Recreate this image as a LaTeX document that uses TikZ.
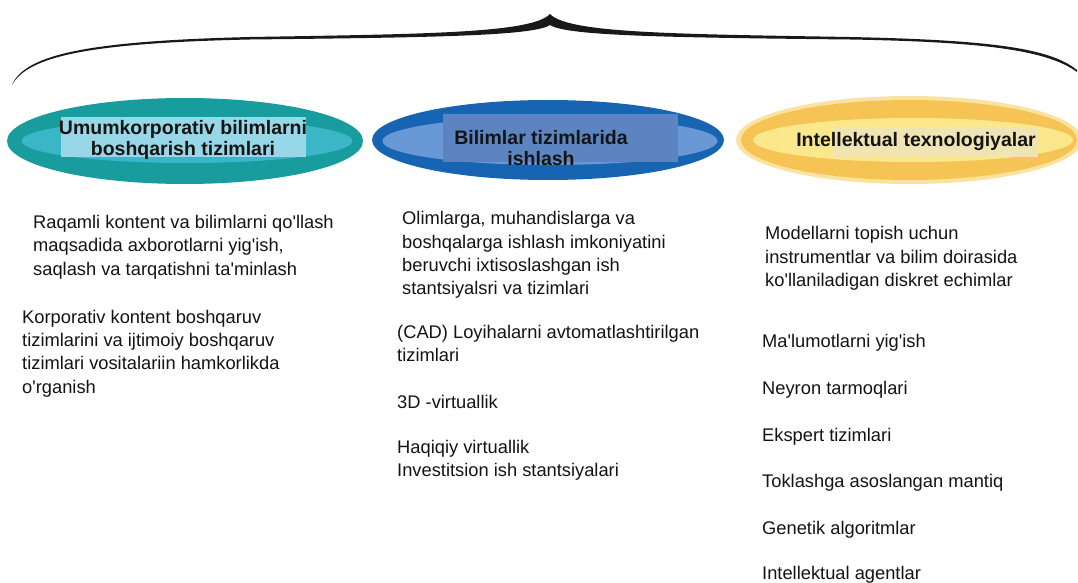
\documentclass[tikz,border=0pt]{standalone}
\usepackage{fontspec}
\setmainfont{Liberation Sans}
\usetikzlibrary{shapes.geometric}
\definecolor{tealO}{RGB}{24,156,158}
\definecolor{tealI}{RGB}{58,182,198}
\definecolor{tealR}{RGB}{150,216,232}
\definecolor{blueO}{RGB}{22,100,178}
\definecolor{blueI}{RGB}{104,152,214}
\definecolor{blueR}{RGB}{92,132,192}
\definecolor{yelG}{RGB}{252,226,160}
\definecolor{yelO}{RGB}{246,196,84}
\definecolor{yelI}{RGB}{252,232,140}
\definecolor{yelR}{RGB}{240,228,178}
\definecolor{txt}{RGB}{20,20,20}
\newcommand{\ap}{\textquotesingle}
\begin{document}
\begin{tikzpicture}[x=1pt,y=-1pt,
  ell/.style={ellipse,inner sep=0pt,draw=none},
  titlerect/.style={inner sep=0pt,draw=none},
  title/.style={font=\fontsize{19.5}{21}\selectfont\bfseries,align=center,inner sep=0pt,text=txt},
  body/.style={font=\fontsize{18.3}{23.3}\selectfont,align=left,anchor=west,inner sep=0pt,text=txt}]
\useasboundingbox (0,0) rectangle (1078,583);
\fill[white] (0,0) rectangle (1078,583);
% brace
\fill[black!90] (12,85) .. controls (25,54) and (90,41) .. (250,37)
  .. controls (430,34) and (532,33) .. (550,14)
  .. controls (568,33) and (670,34) .. (850,37)
  .. controls (990,40) and (1050,48) .. (1077,70)
  -- (1077,72)
  .. controls (1048,51) and (990,42) .. (850,39.5)
  .. controls (670,37.5) and (566,36) .. (550,25)
  .. controls (534,36) and (430,37.5) .. (250,39.5)
  .. controls (90,43) and (28,56) .. (12,85) -- cycle;
% left ellipse
\node[ell,fill=tealO,minimum width=356,minimum height=86] (e1) at (185,141) {};
\node[ell,fill=tealI,minimum width=331,minimum height=44] (i1) at (187,141) {};
\node[titlerect,fill=tealR,minimum width=245,minimum height=40] (r1) at (183,137) {};
\node[title] (t1) at (183,140) {Umumkorporativ bilimlarni\\boshqarish tizimlari};
% middle ellipse
\node[ell,fill=blueO,minimum width=352,minimum height=80] (e2) at (548,140) {};
\node[ell,fill=blueI,minimum width=335,minimum height=48] (i2) at (550,141) {};
\node[titlerect,fill=blueR,minimum width=235,minimum height=47] (r2) at (560,138) {};
\node[title] (t2) at (541,148) {Bilimlar tizimlarida\\ishlash};
% right ellipse
\node[ell,fill=yelG,minimum width=346,minimum height=88] (g3) at (909,140) {};
\node[ell,fill=yelO,minimum width=336,minimum height=80] (e3) at (909,140) {};
\node[ell,fill=yelI,minimum width=320,minimum height=44] (i3) at (913,140) {};
\node[titlerect,fill=yelR,minimum width=205,minimum height=30] (r3) at (935,142) {};
\node[title] (t3) at (916,142) {Intellektual texnologiyalar};
% left column
\node[body] (a1) at (33,247) {Raqamli kontent va bilimlarni qo\ap llash\\maqsadida axborotlarni yig\ap ish,\\saqlash va tarqatishni ta\ap minlash};
\node[body] (a2) at (22,353.5) {Korporativ kontent boshqaruv\\tizimlarini va ijtimoiy boshqaruv\\tizimlari vositalariin hamkorlikda\\o\ap rganish};
% middle column
\node[body] (b1) at (402,255) {Olimlarga, muhandislarga va\\boshqalarga ishlash imkoniyatini\\beruvchi ixtisoslashgan ish\\stantsiyalsri va tizimlari};
\node[body] (b2) at (397,343.5) {(CAD) Loyihalarni avtomatlashtirilgan\\tizimlari};
\node[body] (b3) at (397,402) {3D -virtuallik};
\node[body] (b4) at (397,460) {Haqiqiy virtuallik\\Investitsion ish stantsiyalari};
% right column
\node[body] (c1) at (765,258.5) {Modellarni topish uchun\\instrumentlar va bilim doirasida\\ko\ap llaniladigan diskret echimlar};
\node[body] (c2) at (762,343) {Ma\ap lumotlarni yig\ap ish};
\node[body] (c3) at (762,390) {Neyron tarmoqlari};
\node[body] (c4) at (762,437) {Ekspert tizimlari};
\node[body] (c5) at (762,483) {Toklashga asoslangan mantiq};
\node[body] (c6) at (762,530) {Genetik algoritmlar};
\node[body] (c7) at (762,575) {Intellektual agentlar};
\end{tikzpicture}
\end{document}
